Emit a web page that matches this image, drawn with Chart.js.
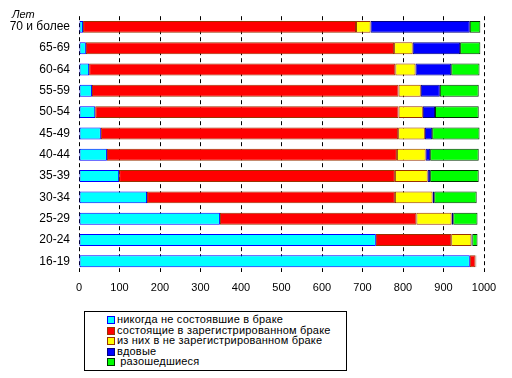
<!DOCTYPE html>
<html>
<head>
<meta charset="utf-8">
<script src="https://cdn.jsdelivr.net/npm/chart.js@4/dist/chart.umd.min.js"></script>
<style>
    body { margin: 0; background: #fff; }
    #wrap { position: relative; width: 512px; height: 378px; }
    #years {
        position: absolute; left: 12px; top: 8px;
        font: italic 11px "Liberation Sans", Arial, sans-serif; color: #000;
    }
    #legend {
        position: absolute; left: 84px; top: 311px; width: 261px; height: 56px;
        border: 1px solid #000; background: #fff;
        font: 11px "Liberation Sans", Arial, sans-serif; color: #000;
        padding-top: 2px; box-sizing: content-box;
    }
    #legend .item { height: 10.5px; line-height: 10.5px; margin-left: 22px; white-space: nowrap; letter-spacing: 0.2px; }
    #legend .box {
        display: inline-block; width: 6px; height: 6px; border-width: 1px; border-style: solid;
        margin-right: 2px; vertical-align: -1px;
    }
</style>
</head>
<body>
<div id="wrap">
    <canvas id="chart" width="512" height="378"></canvas>
    <div id="years">Лет</div>
    <div id="legend"></div>
</div>
<script>
// age groups, top to bottom
const ageGroups = ['70 и более', '65-69', '60-64', '55-59', '50-54', '45-49',
    '40-44', '35-39', '30-34', '25-29', '20-24', '16-19'];

// per 1000 persons
const neverMarried = [10, 17, 25, 32, 40, 54, 69, 99, 168, 348, 733, 965];
const married      = [674, 761, 756, 757, 749, 734, 716, 681, 612, 485, 186, 14];
const unregistered = [36, 46, 50, 55, 60, 66, 71, 81, 93, 87, 50, 1];
const widowed      = [245, 117, 88, 47, 30, 18, 11, 6, 4, 4, 2, 0];
const divorced     = [26, 50, 70, 96, 108, 117, 120, 120, 105, 60, 13, 1];

const xTicks = [0, 100, 200, 300, 400, 500, 600, 700, 800, 900, 1000];

const seriesNames = [
    'никогда не состоявшие в браке',
    'состоящие в зарегистрированном браке',
    'из них в не зарегистрированном браке',
    'вдовые',
    '\u00a0разошедшиеся'
];

const fills = ['#00ffff', '#ff0000', '#ffff00', '#0000ff', '#00ff00'];
const edges = ['#0000ff', '#993300', '#993300', '#000080', '#003300'];

const seriesData = [neverMarried, married, unregistered, widowed, divorced];

const datasets = seriesData.map((data, i) => ({
    label: seriesNames[i],
    data: data,
    backgroundColor: fills[i],
    borderColor: edges[i],
    borderWidth: 1,
    borderSkipped: false,
    categoryPercentage: 1,
    barPercentage: 0.56
}));

const chart = new Chart(document.getElementById('chart'), {
    type: 'bar',
    data: { labels: ageGroups, datasets: datasets },
    options: {
        indexAxis: 'y',
        responsive: false,
        animation: false,
        devicePixelRatio: 1,
        layout: { padding: { top: 15, right: 28, left: 0, bottom: 0 } },
        plugins: {
            legend: { display: false },
            tooltip: { enabled: false }
        },
        scales: {
            x: {
                stacked: true,
                min: 0,
                max: 1000,
                afterBuildTicks: (scale) => {
                    scale.ticks = xTicks.map(v => ({ value: v }));
                },
                afterFit: (scale) => { scale.height = 106; },
                grid: { color: '#000', lineWidth: 1, drawTicks: false },
                border: { display: false, dash: [4, 3] },
                ticks: {
                    color: '#000',
                    padding: 9,
                    maxRotation: 0,
                    callback: (value) => String(value),
                    font: { family: '"Liberation Sans", Arial, sans-serif', size: 11 }
                }
            },
            y: {
                stacked: true,
                afterFit: (scale) => { scale.width = 79; },
                grid: { display: false, drawTicks: false },
                border: { display: false },
                ticks: {
                    color: '#000',
                    padding: 9,
                    font: { family: '"Liberation Sans", Arial, sans-serif', size: 12 }
                }
            }
        }
    }
});

// legend in a box under the chart, one item per line
const legendBox = document.getElementById('legend');
chart.data.datasets.forEach(ds => {
    const row = document.createElement('div');
    row.className = 'item';
    const box = document.createElement('span');
    box.className = 'box';
    box.style.background = ds.backgroundColor;
    box.style.borderColor = ds.borderColor;
    row.appendChild(box);
    row.appendChild(document.createTextNode(ds.label));
    legendBox.appendChild(row);
});
</script>
</body>
</html>
